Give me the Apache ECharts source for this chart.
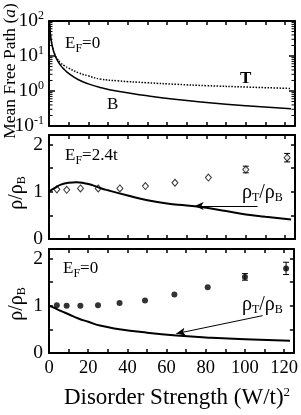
<!DOCTYPE html>
<html><head><meta charset="utf-8">
<script src="https://cdn.jsdelivr.net/npm/echarts@6/dist/echarts.min.js"></script>
<style>html,body{margin:0;padding:0;background:#fff}#c{width:301px;height:415px}</style>
</head><body><div id="c"></div>
<script>
// ---- data ----
const xTicks = [0, 20, 40, 60, 80, 100, 120];
const logMinorTicks = [0.2, 0.3, 0.4, 0.5, 0.6, 0.7, 0.8, 0.9, 2, 3, 4, 5, 6, 7, 8, 9, 20, 30, 40, 50, 60, 70, 80, 90];
const mfpX = [0.3, 0.6, 1, 2, 3, 4, 6, 8, 10, 15, 20, 26, 35, 50, 65, 80, 100, 123];
const mfpB = [100, 50, 31, 16, 10.5, 8, 5.3, 4, 3.2, 2.1, 1.6, 1.26, 0.98, 0.73, 0.57, 0.47, 0.38, 0.31];
const mfpT = [100, 50, 31, 16, 11, 8.6, 6.3, 5.2, 4.5, 3.3, 2.7, 2.2, 1.95, 1.72, 1.55, 1.42, 1.3, 1.18];

const ratio24X = [0, 3, 6, 10, 14, 18, 22, 26, 30, 40, 50, 60, 70, 80, 90, 100, 110, 123];
const ratio24Y = [1.0, 1.08, 1.15, 1.19, 1.20, 1.18, 1.14, 1.08, 1.03, 0.92, 0.82, 0.75, 0.71, 0.66, 0.59, 0.52, 0.47, 0.41];
const ratio0X = [0, 3, 6, 10, 15, 20, 26, 35, 50, 65, 80, 100, 123];
const ratio0Y = [1.0, 0.95, 0.89, 0.82, 0.73, 0.66, 0.58, 0.51, 0.43, 0.37, 0.33, 0.29, 0.26];

const simX = [4, 9, 16, 25, 36, 49, 64, 81, 100, 121];
const sim24Y = [1.05, 1.04, 1.07, 1.07, 1.07, 1.12, 1.19, 1.30, 1.47, 1.72];
const sim24Err = [0, 0, 0, 0, 0, 0, 0, 0, 0.07, 0.09];
const sim0Y = [1.01, 1.0, 1.0, 1.01, 1.06, 1.11, 1.24, 1.39, 1.61, 1.79];
const sim0Err = [0, 0, 0, 0, 0, 0, 0, 0, 0.07, 0.13];

// arrows [xFrom, yFrom, xTo, yTo] in data units
const arrow24 = [106, 0.70, 74, 0.70];
const arrow0 = [109, 0.79, 65, 0.41];

// ---- build ----
const FONT = 'Liberation Serif';
const X_MIN = 0, X_MAX = 125;
const zip = (a, b) => a.map((v, i) => [v, b[i]]);
const errData = (x, y, e) => x.map((v, i) => [v, y[i] - e[i], y[i] + e[i]]).filter((d, i) => e[i] > 0);

const grids = [
  {left: 49, top: 21, width: 246, height: 105},
  {left: 49, top: 135, width: 246, height: 104},
  {left: 49, top: 249, width: 246, height: 104}
];

const lineStyle = {color: '#000', width: 2};
const xAxes = [], yAxes = [];
grids.forEach((g, i) => {
  ['bottom', 'top'].forEach(pos => {
    xAxes.push({
      type: 'value', gridIndex: i, position: pos, min: X_MIN, max: X_MAX, interval: 10,
      axisLine: {show: true, onZero: false, lineStyle},
      axisTick: {show: true, inside: true, length: 4, lineStyle: {color: '#000', width: 1.5}},
      splitLine: {show: false},
      axisLabel: {
        show: (i === 2 && pos === 'bottom'),
        fontFamily: FONT, fontSize: 18.5, color: '#000', margin: 6,
        formatter: v => xTicks.includes(v) ? String(v) : ''
      }
    });
  });
  ['left', 'right'].forEach(pos => {
    if (i === 0) {
      yAxes.push({
        type: 'log', logBase: 10, gridIndex: i, position: pos, min: 0.1, max: 100,
        axisLine: {show: true, onZero: false, lineStyle},
        axisTick: {show: true, inside: true, length: 6, lineStyle: {color: '#000', width: 1.5}},
        splitLine: {show: false},
        axisLabel: {
          show: pos === 'left', margin: 5, color: '#000',
          formatter: v => '{b|10}{s|' + Math.round(Math.log10(v)) + '}',
          rich: {
            b: {fontFamily: FONT, fontSize: 19.5, color: '#000'},
            s: {fontFamily: FONT, fontSize: 12, color: '#000', verticalAlign: 'top', padding: [0, 0, 10, 0]}
          }
        }
      });
    } else {
      yAxes.push({
        type: 'value', gridIndex: i, position: pos, min: 0, max: 2.2, interval: 0.5,
        axisLine: {show: true, onZero: false, lineStyle},
        axisTick: {show: true, inside: true, length: 4, lineStyle: {color: '#000', width: 1.5}},
        splitLine: {show: false},
        axisLabel: {
          show: pos === 'left', margin: 6, color: '#000', fontFamily: FONT, fontSize: 19.5,
          formatter: v => Number.isInteger(v) ? String(v) : ''
        }
      });
    }
  });
});

const errSeries = (xi, yi, data) => ({
  type: 'custom', xAxisIndex: xi, yAxisIndex: yi, data,
  renderItem: (params, api) => {
    const x = api.value(0);
    const lo = api.coord([x, api.value(1)]);
    const hi = api.coord([x, api.value(2)]);
    const w = 3;
    return {type: 'group', children: [
      {type: 'line', shape: {x1: lo[0], y1: lo[1], x2: hi[0], y2: hi[1]}, style: {stroke: '#000', lineWidth: 1}},
      {type: 'line', shape: {x1: lo[0] - w, y1: lo[1], x2: lo[0] + w, y2: lo[1]}, style: {stroke: '#000', lineWidth: 1}},
      {type: 'line', shape: {x1: hi[0] - w, y1: hi[1], x2: hi[0] + w, y2: hi[1]}, style: {stroke: '#000', lineWidth: 1}}
    ]};
  }
});

// minor log ticks on both vertical edges of the top panel
const minorTickSeries = {
  type: 'custom', xAxisIndex: 0, yAxisIndex: 0, silent: true, clip: false,
  data: logMinorTicks.map(v => [X_MIN, v]),
  renderItem: (params, api) => {
    const v = api.value(1);
    const l = api.coord([X_MIN, v]);
    const r = api.coord([X_MAX, v]);
    const len = 3.5;
    return {type: 'group', children: [
      {type: 'line', shape: {x1: l[0], y1: l[1], x2: l[0] + len, y2: l[1]}, style: {stroke: '#000', lineWidth: 1}},
      {type: 'line', shape: {x1: r[0], y1: r[1], x2: r[0] - len, y2: r[1]}, style: {stroke: '#000', lineWidth: 1}}
    ]};
  }
};

const arrowMark = a => ({
  silent: true, symbol: ['none', 'arrow'], symbolSize: [6, 9], label: {show: false},
  lineStyle: {color: '#000', width: 1, type: 'solid'},
  data: [[{coord: [a[0], a[1]]}, {coord: [a[2], a[3]]}]]
});

const series = [
  minorTickSeries,
  {type: 'line', xAxisIndex: 0, yAxisIndex: 0, data: zip(mfpX, mfpB), smooth: true, showSymbol: false,
   lineStyle: {color: '#000', width: 1.5}},
  {type: 'line', xAxisIndex: 0, yAxisIndex: 0, data: zip(mfpX, mfpT), smooth: true, showSymbol: false,
   lineStyle: {color: '#000', width: 1.5, type: 'dotted'}},
  {type: 'line', xAxisIndex: 2, yAxisIndex: 2, data: zip(ratio24X, ratio24Y), smooth: true, showSymbol: false,
   lineStyle: {color: '#000', width: 2}, markLine: arrowMark(arrow24)},
  {type: 'scatter', xAxisIndex: 2, yAxisIndex: 2, data: zip(simX, sim24Y), symbol: 'diamond', symbolSize: [6, 7],
   itemStyle: {color: '#fff', borderColor: '#000', borderWidth: 1}},
  errSeries(2, 2, errData(simX, sim24Y, sim24Err)),
  {type: 'line', xAxisIndex: 4, yAxisIndex: 4, data: zip(ratio0X, ratio0Y), smooth: true, showSymbol: false,
   lineStyle: {color: '#000', width: 2}, markLine: arrowMark(arrow0)},
  {type: 'scatter', xAxisIndex: 4, yAxisIndex: 4, data: zip(simX, sim0Y), symbol: 'circle', symbolSize: 6,
   itemStyle: {color: '#000'}},
  errSeries(4, 4, errData(simX, sim0Y, sim0Err))
];

const t = (x, y, text, rich, extra) => Object.assign({
  type: 'text', x, y, style: {text, rich, fill: '#000', font: '16px ' + FONT}
}, extra || {});
const richEF = {
  m: {fontFamily: FONT, fontSize: 17, color: '#000'},
  sub: {fontFamily: FONT, fontSize: 12, color: '#000', verticalAlign: 'bottom', padding: [10, 0, 0, 0]}
};
const richRho = {
  m: {fontFamily: FONT, fontSize: 20, color: '#000'},
  sub: {fontFamily: FONT, fontSize: 12, color: '#000', verticalAlign: 'bottom', padding: [10, 0, 0, 0]}
};

const graphic = [
  t(65, 33, '{m|E}{sub|F}{m|=0}', richEF),
  t(65, 145, '{m|E}{sub|F}{m|=2.4t}', richEF),
  t(63, 258, '{m|E}{sub|F}{m|=0}', richEF),
  {type: 'text', x: 240, y: 70, style: {text: 'T', fill: '#000', font: 'bold 17px ' + FONT}},
  {type: 'text', x: 107, y: 96, style: {text: 'B', fill: '#000', font: '17px ' + FONT}},
  t(242, 182, '{m|ρ}{sub|T}{m|/ρ}{sub|B}', richRho),
  t(242, 294, '{m|ρ}{sub|T}{m|/ρ}{sub|B}', richRho),
  // vertical axis titles
  {type: 'text', x: 1, y: 71, rotation: Math.PI / 2,
   style: {text: '{m|Mean Free Path (}{i|a}{m|)}', align: 'center', verticalAlign: 'top',
     rich: {m: {fontFamily: FONT, fontSize: 17.5, color: '#000'}, i: {fontFamily: FONT, fontSize: 17.5, fontStyle: 'italic', color: '#000'}}}},
  {type: 'text', x: 6, y: 193, rotation: Math.PI / 2,
   style: {text: '{m|ρ/ρ}{sub|B}', align: 'center', verticalAlign: 'top', rich: richRho}},
  {type: 'text', x: 6, y: 304, rotation: Math.PI / 2,
   style: {text: '{m|ρ/ρ}{sub|B}', align: 'center', verticalAlign: 'top', rich: richRho}},
  // x title
  {type: 'text', x: 177, y: 386, style: {text: '{m|Disorder Strength (W/t)}{s|2}', align: 'center',
     rich: {m: {fontFamily: FONT, fontSize: 23, color: '#000'},
            s: {fontFamily: FONT, fontSize: 13, color: '#000', verticalAlign: 'top', padding: [0, 0, 11, 0]}}}}
];

const chart = echarts.init(document.getElementById('c'), null, {renderer: 'canvas'});
chart.setOption({
  animation: false,
  backgroundColor: '#fff',
  grid: grids,
  xAxis: xAxes,
  yAxis: yAxes,
  series,
  graphic
});
</script></body></html>
